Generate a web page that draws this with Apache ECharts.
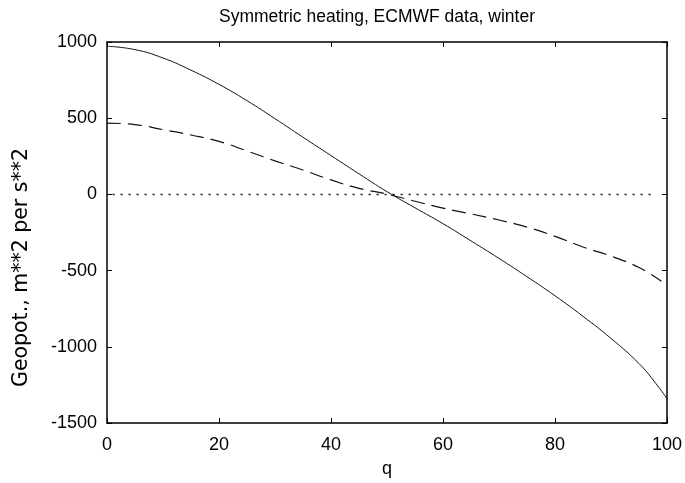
<!DOCTYPE html>
<html>
<head>
<meta charset="utf-8">
<script src="https://cdn.jsdelivr.net/npm/echarts@6/dist/echarts.min.js"></script>
<style>html,body{margin:0;padding:0;background:#fff}#c{width:685px;height:483px}</style>
</head>
<body>
<div id="c"></div>
<script>
// q values and series
var solidQ = [0, 5, 10, 15, 20, 25, 30, 35, 40, 45, 50, 55, 60, 65, 70, 75, 80, 85, 90, 95, 98, 100];
var solidV = [972, 950, 895, 815, 722, 615, 497, 375, 255, 135, 18, -88, -192, -305, -420, -540, -665, -800, -945, -1110, -1240, -1340];
var dashedQ = [0, 5, 10, 15, 20, 25, 30, 35, 40, 45, 50, 55, 60, 65, 70, 75, 80, 85, 90, 95, 99];
var dashedV = [468, 458, 425, 390, 348, 285, 220, 160, 95, 40, 2, -45, -90, -128, -168, -215, -275, -345, -405, -480, -570];
var dottedQ = [1, 98];
var dottedV = [0, 0];
var xTicks = [0, 20, 40, 60, 80, 100];
var yTicks = [-1500, -1000, -500, 0, 500, 1000];

function pairs(q, v) { return q.map(function (x, i) { return [x, v[i]]; }); }

var font = 'Liberation Sans, Arial, sans-serif';
var chart = echarts.init(document.getElementById('c'));
var axisLine = { show: true, onZero: false, lineStyle: { color: '#000', width: 1.5 } };
var tick = { show: true, inside: true, length: 5, lineStyle: { color: '#000' } };
chart.setOption({
  animation: false,
  title: {
    text: 'Symmetric heating, ECMWF data, winter',
    left: 372, top: 3, textAlign: 'center',
    textStyle: { fontFamily: font, fontSize: 17.5, fontWeight: 'normal', color: '#000' }
  },
  grid: { left: 107, right: 18, top: 42, bottom: 55 },
  xAxis: [{
    type: 'value', min: xTicks[0], max: xTicks[xTicks.length - 1], interval: 20,
    name: 'q', nameLocation: 'middle', nameGap: 37,
    nameTextStyle: { fontFamily: font, fontSize: 18, color: '#000' },
    axisLine: axisLine, axisTick: tick,
    axisLabel: { fontFamily: font, fontSize: 18, color: '#000', margin: 13, formatter: function (v) { return String(v); } },
    splitLine: { show: false }
  }, {
    type: 'value', position: 'top', min: 0, max: 100, interval: 20,
    axisLine: axisLine, axisTick: tick,
    axisLabel: { show: false }, splitLine: { show: false }
  }],
  yAxis: [{
    type: 'value', min: yTicks[0], max: yTicks[yTicks.length - 1], interval: 500,
    name: 'Geopot., m**2 per s**2', nameLocation: 'middle', nameGap: 75,
    nameTextStyle: { fontFamily: 'DejaVu Sans, sans-serif', fontSize: 20.5, color: '#000', padding: [0, 70, 0, 0] },
    axisLine: axisLine, axisTick: tick,
    axisLabel: { fontFamily: font, fontSize: 18, color: '#000', margin: 10, formatter: function (v) { return String(v); } },
    splitLine: { show: false }
  }, {
    type: 'value', position: 'right', min: -1500, max: 1000, interval: 500,
    axisLine: axisLine, axisTick: tick,
    axisLabel: { show: false }, splitLine: { show: false }
  }],
  series: [{
    type: 'line', data: pairs(solidQ, solidV), smooth: true, showSymbol: false,
    lineStyle: { color: '#111', width: 1 }
  }, {
    type: 'line', data: pairs(dashedQ, dashedV), smooth: true, showSymbol: false,
    lineStyle: { color: '#111', width: 1.2, type: [14, 7] }
  }, {
    type: 'line', data: pairs(dottedQ, dottedV), showSymbol: false,
    lineStyle: { color: '#111', width: 1.5, type: [2, 6] }
  }]
});
</script>
</body>
</html>
